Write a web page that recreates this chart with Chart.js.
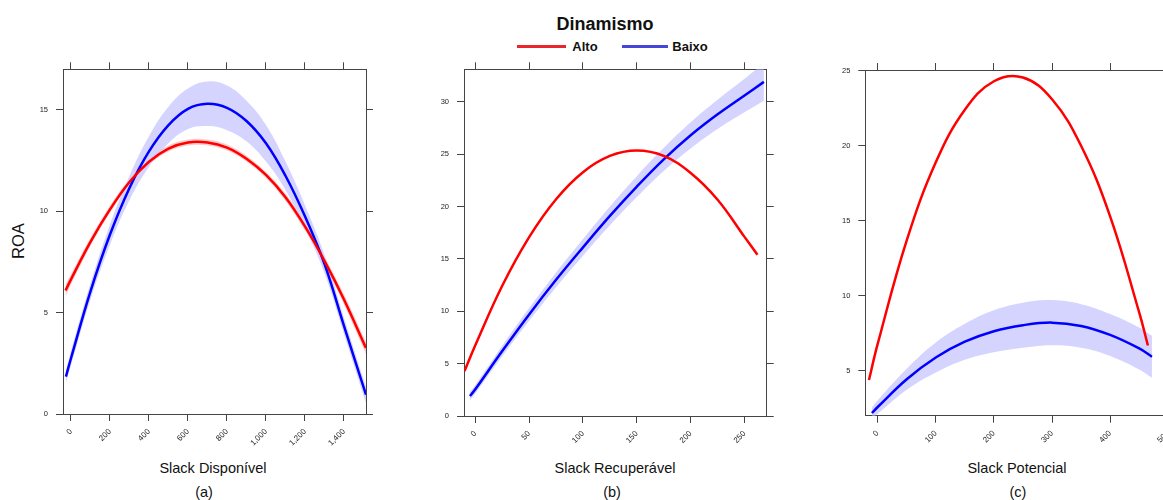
<!DOCTYPE html>
<html>
<head>
<meta charset="utf-8">
<script src="https://cdn.jsdelivr.net/npm/chart.js@4.4.0/dist/chart.umd.min.js"></script>
<style>
    body { margin: 0; width: 1163px; height: 500px; overflow: hidden; background: #fff; position: relative;
           font-family: Arial, "Liberation Sans", sans-serif; }
    .c { position: absolute; }
    .t { position: absolute; transform: translate(-50%, -50%); white-space: nowrap; color: #111; }
    .key { position: absolute; height: 3px; }
</style>
</head>
<body>

<div class="t" style="left:605px;top:24px;font-weight:bold;font-size:18px">Dinamismo</div>
<div class="key" style="left:517px;top:45px;width:49px;background:#e8262e"></div>
<div class="t" style="left:585px;top:46px;font-weight:bold;font-size:13px">Alto</div>
<div class="key" style="left:622px;top:45px;width:46px;background:#4646d8"></div>
<div class="t" style="left:690px;top:46px;font-weight:bold;font-size:13px">Baixo</div>

<div class="t" style="left:18px;top:241px;font-size:16.5px;transform:translate(-50%,-50%) rotate(-90deg)">ROA</div>

<div class="t" style="left:213px;top:468px;font-size:14.5px">Slack Disponível</div>
<div class="t" style="left:204px;top:492px;font-size:14.5px">(a)</div>
<div class="t" style="left:615px;top:468px;font-size:14.5px">Slack Recuperável</div>
<div class="t" style="left:612px;top:492px;font-size:14.5px">(b)</div>
<div class="t" style="left:1017px;top:468px;font-size:14.5px">Slack Potencial</div>
<div class="t" style="left:1018px;top:492px;font-size:14.5px">(c)</div>

<div class="c" style="left:0;top:50px"><canvas id="ga" width="400" height="410"></canvas></div>
<div class="c" style="left:400px;top:50px"><canvas id="gb" width="390" height="410"></canvas></div>
<div class="c" style="left:790px;top:50px"><canvas id="gc" width="400" height="410"></canvas></div>

<script>
// --- (a) Slack Disponível ---
const xAltoA = [-28, 0, 100, 200, 300, 400, 500, 600, 700, 800, 900, 1000, 1100, 1200, 1300, 1400, 1513];
const altoA = [6.09, 6.64, 8.49, 10.09, 11.44, 12.44, 13.09, 13.39, 13.39, 13.14, 12.59, 11.79, 10.69, 9.25, 7.55, 5.65, 3.25];
const altoBandA = [0.3, 0.25, 0.2, 0.18, 0.15, 0.15, 0.15, 0.15, 0.15, 0.15, 0.15, 0.15, 0.18, 0.2, 0.22, 0.25, 0.3];
const xBaixoA = [-26, 0, 100, 200, 300, 400, 500, 600, 700, 800, 900, 1000, 1100, 1200, 1300, 1400, 1513];
const baixoA = [1.84, 2.75, 6.05, 8.85, 11.15, 12.95, 14.25, 15.05, 15.3, 15.1, 14.45, 13.35, 11.75, 9.75, 7.4, 4.35, 0.95];
const baixoBandA = [0.3, 0.35, 0.4, 0.5, 0.6, 0.75, 0.9, 1.0, 1.1, 1.1, 1.0, 0.9, 0.7, 0.55, 0.45, 0.4, 0.4];
const xTicksA = [0, 200, 400, 600, 800, 1000, 1200, 1400];
const yTicksA = [0, 5, 10, 15];

// --- (b) Slack Recuperável ---
const xAltoB = [-10, 0, 25, 50, 75, 100, 125, 150, 175, 200, 225, 250, 262];
const altoB = [4.3, 6.75, 12.43, 17.08, 20.7, 23.28, 24.83, 25.35, 24.83, 23.2, 20.65, 17.1, 15.4];
const xBaixoB = [-5, 0, 25, 50, 75, 100, 125, 150, 175, 200, 225, 250, 268];
const baixoB = [1.9, 2.55, 6.2, 9.7, 13.0, 16.1, 19.1, 21.9, 24.5, 26.8, 28.8, 30.6, 31.9];
const baixoBandB = [0.4, 0.4, 0.5, 0.6, 0.7, 0.8, 0.9, 1.0, 1.1, 1.25, 1.4, 1.6, 1.8];
const xTicksB = [0, 50, 100, 150, 200, 250];
const yTicksB = [0, 5, 10, 15, 20, 25, 30];

// --- (c) Slack Potencial ---
const xAltoC = [-15, 0, 50, 100, 150, 200, 250, 300, 350, 400, 450, 465];
const altoC = [4.4, 6.8, 13.7, 18.9, 22.4, 24.3, 24.55, 23.1, 20.0, 15.3, 8.9, 6.7];
const xBaixoC = [-10, 0, 50, 100, 150, 200, 250, 300, 350, 400, 450, 472];
const baixoC = [2.2, 2.6, 4.45, 5.9, 6.95, 7.65, 8.05, 8.22, 8.0, 7.4, 6.5, 5.95];
const baixoBandC = [0.35, 0.45, 0.7, 1.0, 1.2, 1.4, 1.5, 1.5, 1.45, 1.4, 1.4, 1.4];
const xTicksC = [0, 100, 200, 300, 400, 500];
const yTicksC = [5, 10, 15, 20, 25];

Chart.defaults.font.family = 'Arial, "Liberation Sans", sans-serif';

const VERMELHO = "#ff0000";
const AZUL = "#0000ff";
const FAIXA_AZUL = "rgba(204, 204, 255, 0.85)";
const FAIXA_VERM = "rgba(255, 170, 170, 0.6)";
const EIXO = "#444";

function pts(xs, ys, off) {
    return xs.map((x, i) => ({ x: x, y: ys[i] + (off ? off[i] : 0) }));
}
function neg(arr) { return arr.map(v => -v); }

function faixa(xs, ys, hw, cor) {
    return [
        { data: pts(xs, ys, hw), borderWidth: 0, pointRadius: 0, backgroundColor: cor, fill: "+1", tension: 0.4, order: 5 },
        { data: pts(xs, ys, neg(hw)), borderWidth: 0, pointRadius: 0, backgroundColor: cor, fill: false, tension: 0.4, order: 5 }
    ];
}
function linha(xs, ys, cor) {
    return { data: pts(xs, ys), borderColor: cor, borderWidth: 2.5, pointRadius: 0, fill: false, tension: 0.4, order: 1 };
}

function painel(id, o) {
    const fixTicks = vals => s => { s.ticks = vals.map(v => ({ value: v })); };
    const grid = { drawOnChartArea: false, drawTicks: true, tickLength: 7, color: EIXO, lineWidth: 1 };
    const border = { display: true, color: EIXO, width: 1 };
    new Chart(document.getElementById(id), {
        type: "line",
        data: { datasets: o.datasets },
        options: {
            responsive: false,
            animation: false,
            events: [],
            layout: { padding: 0 },
            plugins: { legend: { display: false }, tooltip: { enabled: false } },
            scales: {
                x: {
                    type: "linear", position: "bottom", min: o.xMin, max: o.xMax,
                    afterBuildTicks: fixTicks(o.xTicks),
                    afterFit: s => { s.height = o.bottom; },
                    ticks: { autoSkip: false, minRotation: 45, maxRotation: 45, padding: 6, color: "#222", font: { size: 8 } },
                    grid: grid, border: border
                },
                xTop: {
                    type: "linear", position: "top", min: o.xMin, max: o.xMax,
                    afterBuildTicks: fixTicks(o.xTicks),
                    afterFit: s => { s.height = o.top; },
                    ticks: { display: false },
                    grid: grid, border: border
                },
                y: {
                    type: "linear", position: "left", min: o.yMin, max: o.yMax,
                    afterBuildTicks: fixTicks(o.yTicks),
                    afterFit: s => { s.width = o.left; },
                    ticks: { padding: 8, color: "#222", font: { size: 7.5 } },
                    grid: grid, border: border
                },
                yRight: {
                    type: "linear", position: "right", min: o.yMin, max: o.yMax,
                    afterBuildTicks: fixTicks(o.yTicks),
                    afterFit: s => { s.width = o.right; },
                    ticks: { display: false },
                    grid: grid, border: border
                }
            }
        }
    });
}

painel("ga", {
    xMin: -41, xMax: 1513, yMin: 0, yMax: 17.0,
    xTicks: xTicksA, yTicks: yTicksA,
    left: 63, right: 34, top: 19.3, bottom: 46,
    datasets: [
        ...faixa(xBaixoA, baixoA, baixoBandA, FAIXA_AZUL),
        ...faixa(xAltoA, altoA, altoBandA, FAIXA_VERM),
        linha(xAltoA, altoA, VERMELHO),
        linha(xBaixoA, baixoA, AZUL)
    ]
});

painel("gb", {
    xMin: -10.5, xMax: 270.6, yMin: 0, yMax: 33.1,
    xTicks: xTicksB, yTicks: yTicksB,
    left: 64, right: 23.3, top: 19.3, bottom: 44,
    datasets: [
        ...faixa(xBaixoB, baixoB, baixoBandB, FAIXA_AZUL),
        linha(xAltoB, altoB, VERMELHO),
        linha(xBaixoB, baixoB, AZUL)
    ]
});

painel("gc", {
    xMin: -21.3, xMax: 499.6, yMin: 2.02, yMax: 25.05,
    xTicks: xTicksC, yTicks: yTicksC,
    left: 75.3, right: 22, top: 20, bottom: 44.3,
    datasets: [
        ...faixa(xBaixoC, baixoC, baixoBandC, FAIXA_AZUL),
        linha(xAltoC, altoC, VERMELHO),
        linha(xBaixoC, baixoC, AZUL)
    ]
});
</script>
</body>
</html>
